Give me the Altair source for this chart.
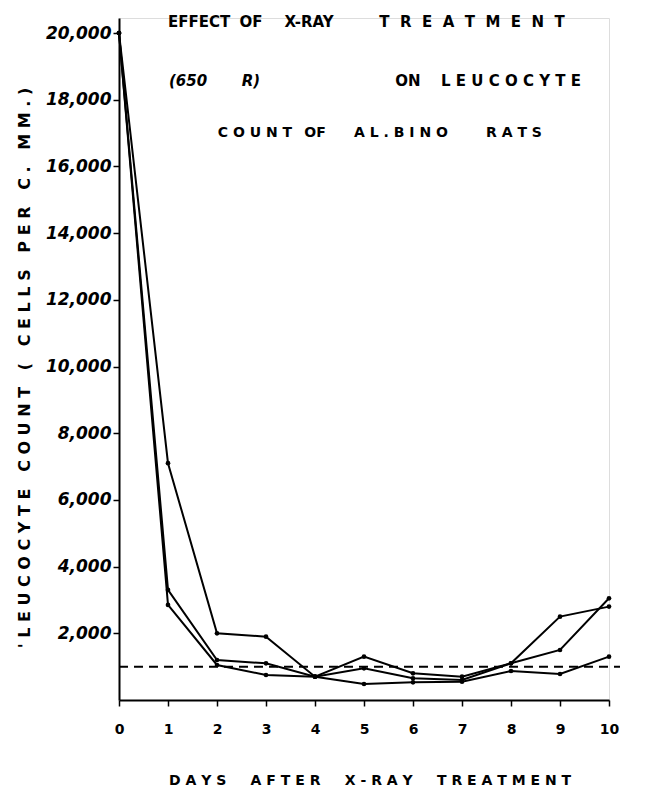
import altair as alt
import pandas as pd

days = list(range(11))
series_a = [20000, 7100, 2000, 1900, 700, 1300, 800, 700, 1100, 2500, 2800]
series_b = [20000, 3300, 1200, 1100, 700, 950, 650, 600, 1100, 1500, 3050]
series_c = [20000, 2850, 1050, 750, 700, 480, 530, 550, 870, 780, 1300]
y_ticks = [2000, 4000, 6000, 8000, 10000, 12000, 14000, 16000, 18000, 20000]
x_ticks = list(range(11))
reference_level = [1000]

rows = []
for name, vals in (("A", series_a), ("B", series_b), ("C", series_c)):
    for d, v in zip(days, vals):
        rows.append({"day": d, "count": v, "rat": name})
df = pd.DataFrame(rows)

FONT = "DejaVu Sans"
W, H = 490, 682
NB = "\u00a0"


def spaced(s, gap=1, word_gap=3):
    words = s.split(" ")
    return (NB * word_gap).join((NB * gap).join(list(w)) for w in words)


x_enc = alt.X("day:Q", scale=alt.Scale(domain=[0, 10], nice=False, zero=False),
              axis=alt.Axis(values=x_ticks, title=None, grid=False, domainColor="black",
                            domainWidth=2, tickColor="black", tickWidth=1.5, tickSize=6,
                            labelFont=FONT, labelFontSize=14, labelFontWeight="bold",
                            labelColor="black", labelPadding=16, labelFlush=False,
                            format="d"))
y_enc = alt.Y("count:Q", scale=alt.Scale(domain=[0, 20450], nice=False),
              axis=alt.Axis(values=y_ticks, title=None, grid=False, domainColor="black",
                            domainWidth=2, tickColor="black", tickWidth=1.5, tickSize=6,
                            labelFont=FONT, labelFontSize=17, labelFontStyle="italic",
                            labelFontWeight="bold", labelFlush=False,
                            labelColor="black", labelPadding=2, format=",d"))

lines = alt.Chart(df).mark_line(color="black", strokeWidth=2).encode(
    x=x_enc, y=y_enc, detail="rat:N")
points = alt.Chart(df).mark_circle(color="black", size=22, opacity=1).encode(
    x="day:Q", y="count:Q", detail="rat:N")

rule = alt.Chart(pd.DataFrame({"level": reference_level})).mark_rule(
    color="black", strokeWidth=2, strokeDash=[9, 6]).encode(
    y="level:Q", x=alt.value(0), x2=alt.value(501))


def txt(s, x, y, size=15, weight="bold", angle=0, align="center", style="normal"):
    return alt.Chart(pd.DataFrame({"t": [s]})).mark_text(
        font=FONT, fontSize=size, fontWeight=weight, angle=angle, align=align,
        fontStyle=style, baseline="middle", color="black").encode(
        text="t:N", x=alt.value(x), y=alt.value(y))


ox, oy = 119, 18  # plot origin in page coords (for annotation placement)
titles = [
    txt("EFFECT", 199 - ox, 22 - oy),
    txt("OF", 251 - ox, 22 - oy),
    txt("X-RAY", 309 - ox, 22 - oy),
    txt(spaced("TREATMENT", 2), 472 - ox, 22 - oy),
    txt("(650", 188 - ox, 81 - oy, style="italic"),
    txt("R)", 251 - ox, 81 - oy, style="italic"),
    txt("ON", 408 - ox, 81 - oy),
    txt(spaced("LEUCOCYTE", 1), 511 - ox, 81 - oy),
    txt(spaced("COUNT", 1), 255 - ox, 133 - oy, size=14),
    txt("OF", 315 - ox, 133 - oy, size=14),
    txt(spaced("AL.BINO", 1), 401 - ox, 133 - oy, size=14),
    txt(spaced("RATS", 1), 514 - ox, 133 - oy, size=14),
    txt(spaced("DAYS AFTER X-RAY TREATMENT", 1, 5), 370 - ox, 781 - oy, size=14),
    txt(spaced("'LEUCOCYTE COUNT ( CELLS PER C. MM.)", 1, 3), 25 - ox, 368 - oy,
        size=16, angle=270),
]

chart = alt.layer(rule, lines, points, *titles).properties(
    width=W, height=H,
    autosize=alt.AutoSizeParams(type="none"),
    padding={"left": 111, "top": 10, "right": 40, "bottom": 90},
).configure_view(stroke=None).configure(background="white")

chart.save("out.html", embed_options={"renderer": "svg", "actions": False})
